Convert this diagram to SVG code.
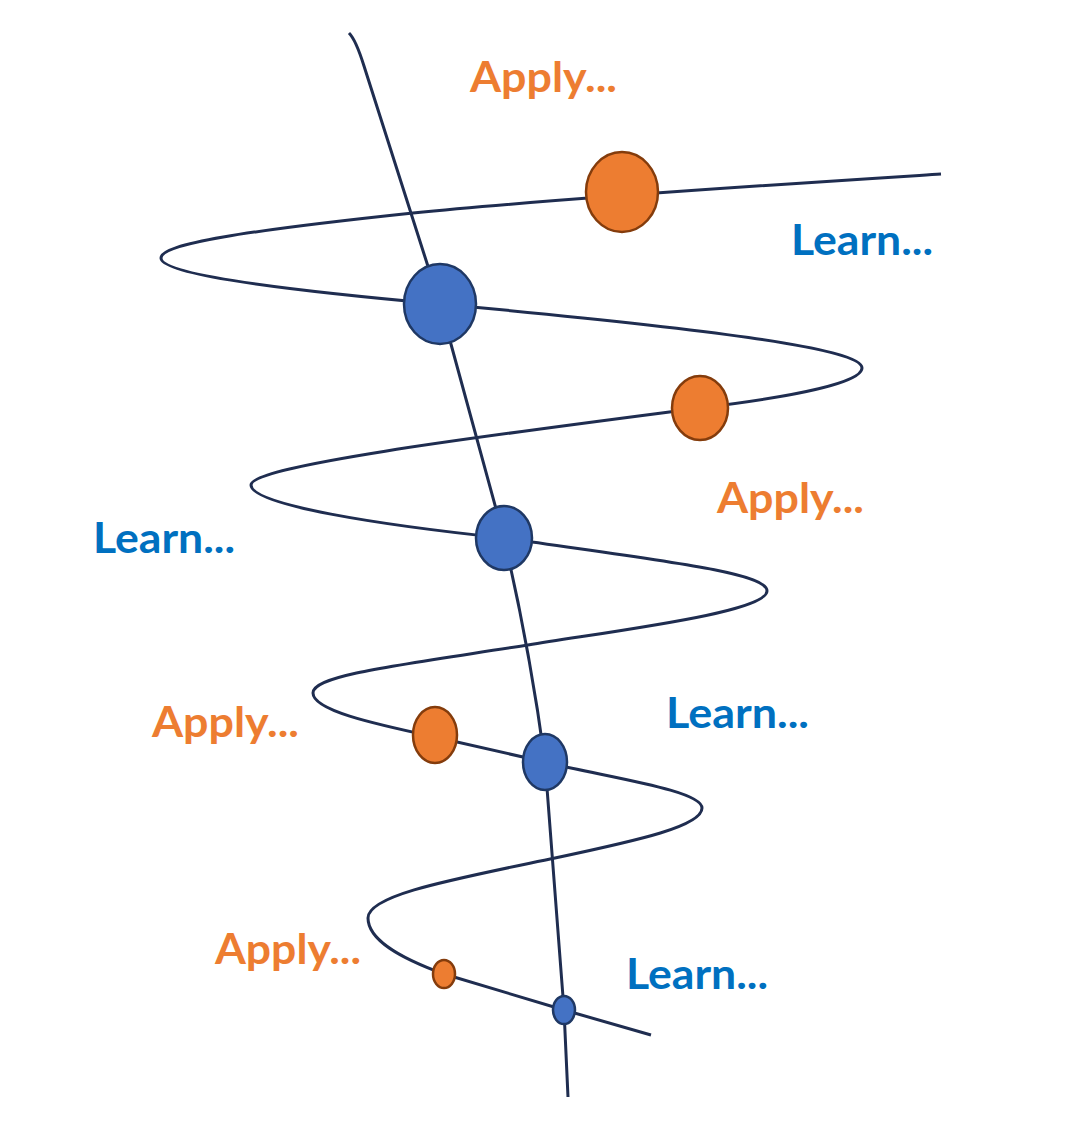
<svg xmlns="http://www.w3.org/2000/svg" width="1084" height="1137" viewBox="0 0 1084 1137">
<style>
.ln{fill:none;stroke:#1F2D50;stroke-width:3;stroke-linecap:butt;stroke-linejoin:round}
.or{fill:#ED7D31;stroke:#843C0C;stroke-width:2.5}
.bl{fill:#4472C4;stroke:#1F3864;stroke-width:2.5}
.t{font-family:Lato,"Open Sans","Liberation Sans",sans-serif;font-weight:bold;font-size:42px}
.ta{fill:#ED7D31}
.tl{fill:#0070C0}
</style>
<rect width="1084" height="1137" fill="#ffffff"/>
<g id="connectors">
<path class="ln" d="M349,33 C355,39 359,50 364,66 L440,304 L504,538 Q530,650 545,762 L564,1010 L568,1097"/>
<path class="ln" d="M941,174 C800,183 560,198 413,213 C243,231 161,244 161,258 C161,272 250,287 440,304 C700,328 862,348 862,368 C862,382 800,396 700,408 C500,434 251,465 251,485 C251,505 380,525 504,538 C654,560 767,572 767,591 C767,612 620,630 528,645 C400,665 313,675 313,693 C313,710 370,723 435,737 L545,762 C605,777 702,790 702,808 C702,826 640,840 555,858 C450,880 368,895 368,918 C368,940 400,958 444,974 L564,1010 L651,1035"/>
</g>
<g id="apply1"><ellipse class="or" cx="622" cy="192" rx="36" ry="40"/></g>
<g id="learn1"><ellipse class="bl" cx="440" cy="304" rx="36" ry="40"/></g>
<g id="apply2"><ellipse class="or" cx="700" cy="408" rx="28" ry="32"/></g>
<g id="learn2"><ellipse class="bl" cx="504" cy="538" rx="28" ry="32"/></g>
<g id="apply3"><ellipse class="or" cx="435" cy="735" rx="22" ry="28"/></g>
<g id="learn3"><ellipse class="bl" cx="545" cy="762" rx="22" ry="28"/></g>
<g id="apply4"><ellipse class="or" cx="444" cy="974" rx="11" ry="14"/></g>
<g id="learn4"><ellipse class="bl" cx="564" cy="1010" rx="11" ry="14"/></g>
<g id="labels">
<text class="t ta" x="470" y="92" textLength="147" lengthAdjust="spacingAndGlyphs">Apply...</text>
<text class="t tl" x="791" y="255" textLength="142" lengthAdjust="spacingAndGlyphs">Learn...</text>
<text class="t ta" x="717" y="513" textLength="147" lengthAdjust="spacingAndGlyphs">Apply...</text>
<text class="t tl" x="93" y="553" textLength="142" lengthAdjust="spacingAndGlyphs">Learn...</text>
<text class="t ta" x="152" y="737" textLength="147" lengthAdjust="spacingAndGlyphs">Apply...</text>
<text class="t tl" x="666" y="728" textLength="143" lengthAdjust="spacingAndGlyphs">Learn...</text>
<text class="t ta" x="215" y="964" textLength="146" lengthAdjust="spacingAndGlyphs">Apply...</text>
<text class="t tl" x="626" y="989" textLength="142" lengthAdjust="spacingAndGlyphs">Learn...</text>
</g>
</svg>
